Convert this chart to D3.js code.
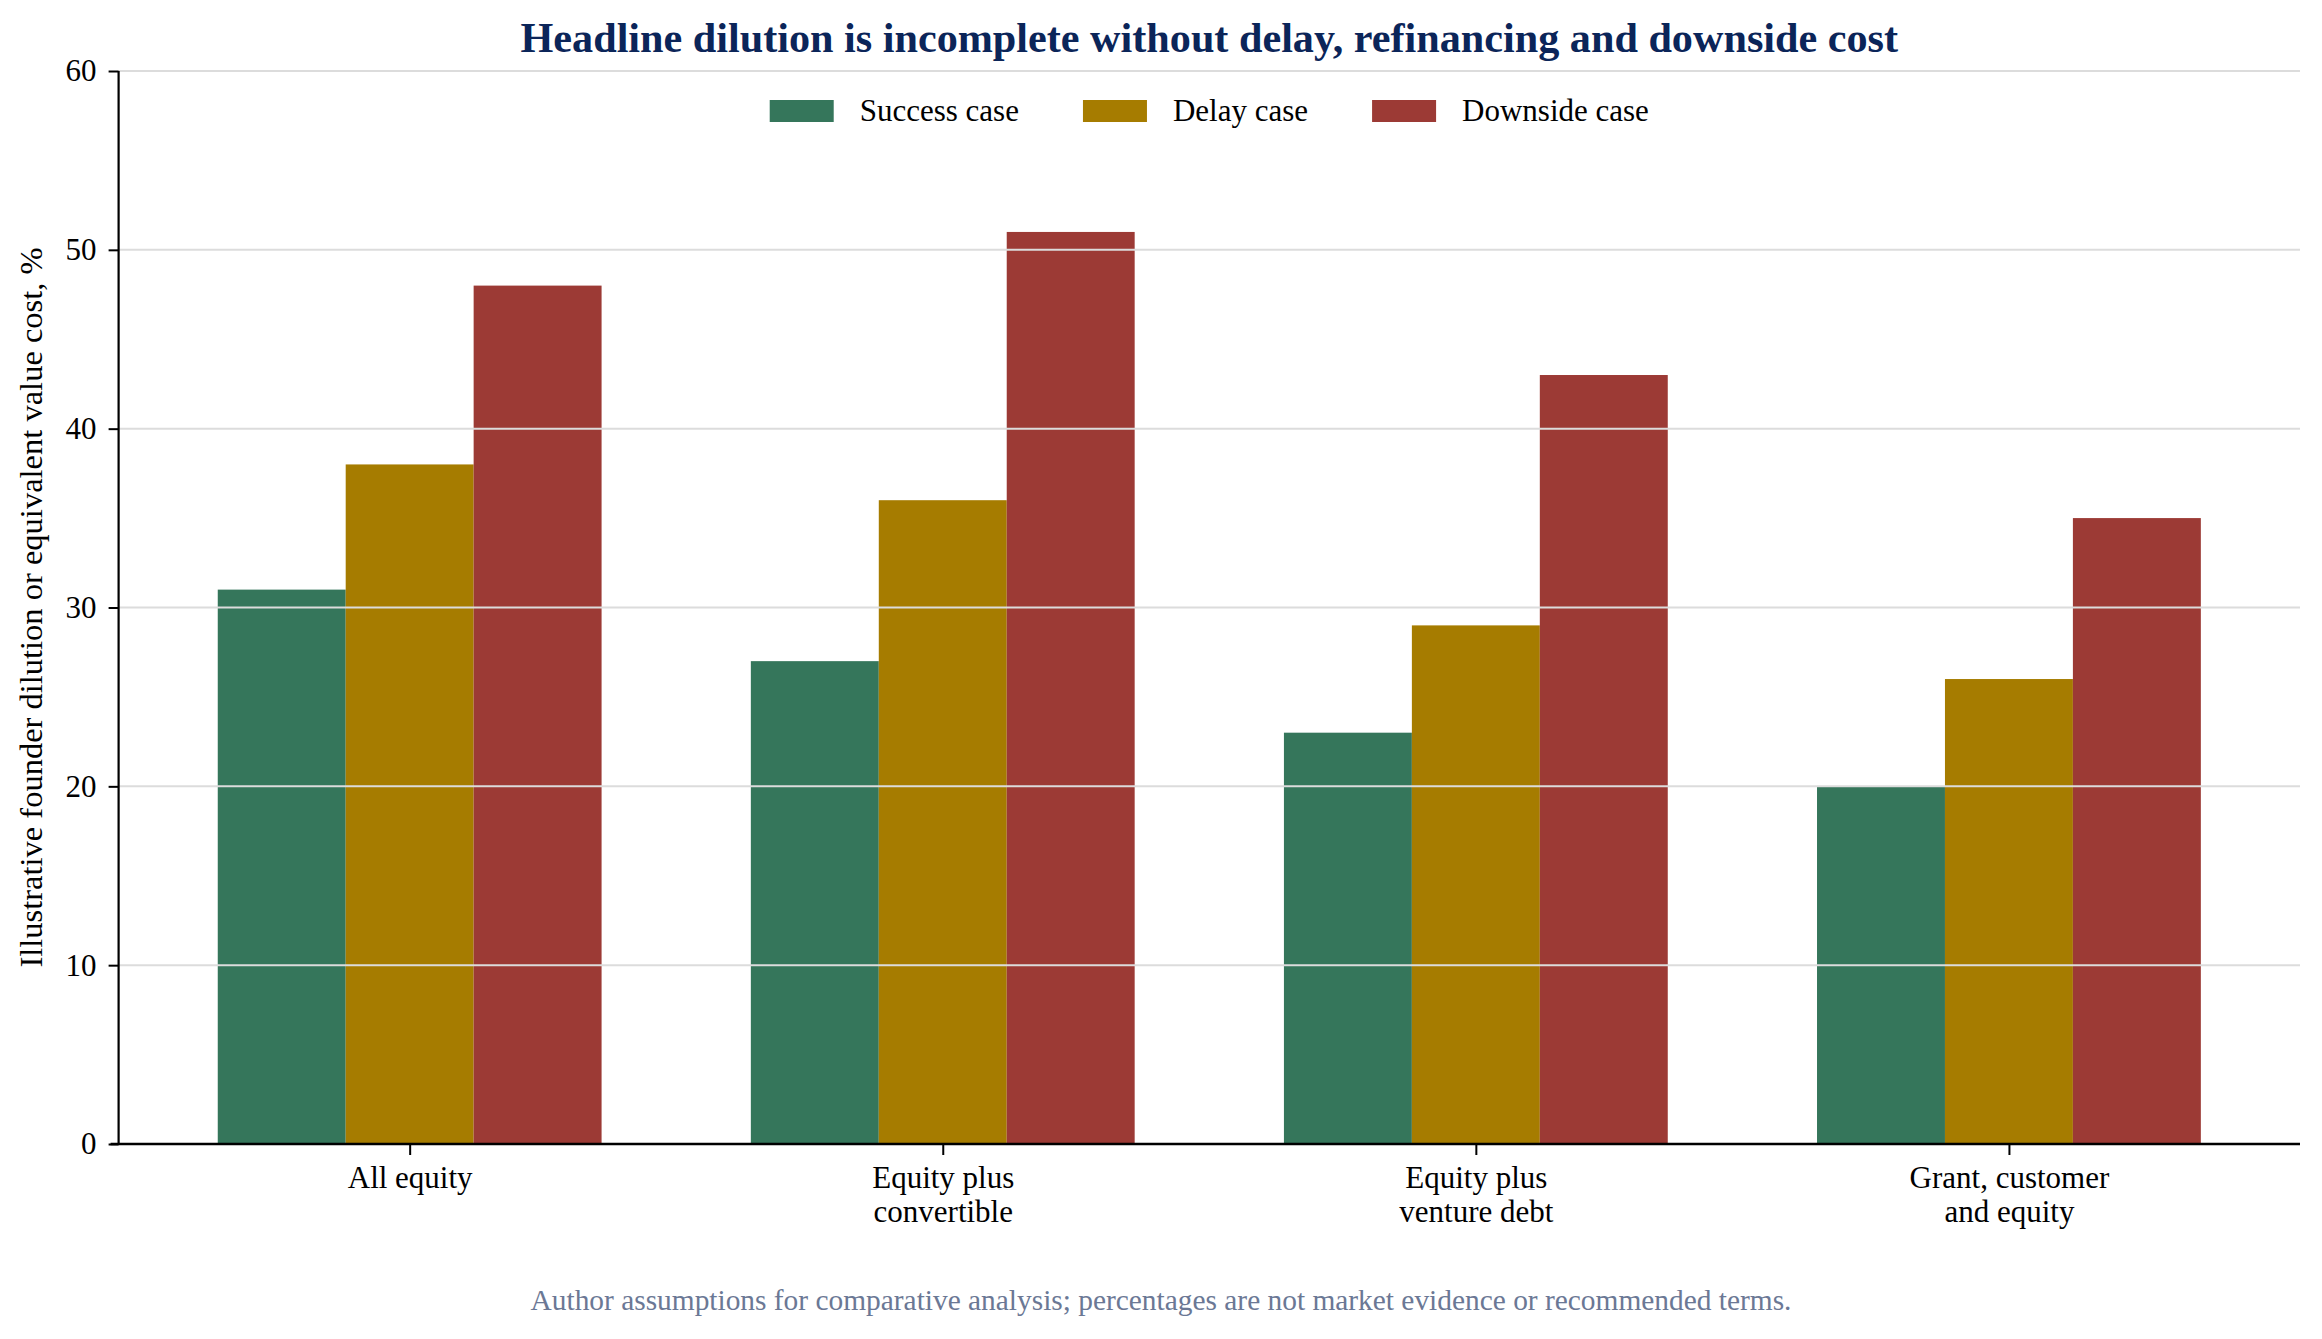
<!DOCTYPE html>
<html>
<head>
<meta charset="utf-8">
<script src="https://cdn.jsdelivr.net/npm/d3@7"></script>
<style>
html,body{margin:0;padding:0;background:#fff;}
svg{display:block;}
text{font-family:"Liberation Serif","Times New Roman",serif;}
</style>
</head>
<body>
<svg id="chart" width="2322" height="1339"></svg>
<script>
const categories = [["All equity"], ["Equity plus", "convertible"], ["Equity plus", "venture debt"], ["Grant, customer", "and equity"]];
const seriesNames = ["Success case", "Delay case", "Downside case"];
const successValues = [31, 27, 23, 20];
const delayValues = [38, 36, 29, 26];
const downsideValues = [48, 51, 43, 35];
const yTicks = [0, 10, 20, 30, 40, 50, 60];
const colors = ["#35765b", "#a67c00", "#9c3a35"];
const titleText = "Headline dilution is incomplete without delay, refinancing and downside cost";
const yLabelText = "Illustrative founder dilution or equivalent value cost, %";
const footerText = "Author assumptions for comparative analysis; percentages are not market evidence or recommended terms.";

const series = [successValues, delayValues, downsideValues];
const W = 2322, H = 1339;
const mLeft = 118.6, mRight = 2300, mTop = 71, mBottom = 1144;
const barW = 0.24;

const svg = d3.select("#chart");
const x = d3.scaleLinear().domain([-0.546, 3.546]).range([mLeft, mRight]);
const y = d3.scaleLinear().domain([0, 60]).range([mBottom, mTop]);

// bars
series.forEach((vals, si) => {
  svg.append("g").selectAll("rect").data(vals).join("rect")
    .attr("x", (d, i) => x(i + (si - 1.5) * barW))
    .attr("width", (d, i) => x(i + (si - 0.5) * barW) - x(i + (si - 1.5) * barW))
    .attr("y", d => y(d))
    .attr("height", d => y(0) - y(d))
    .attr("fill", colors[si]);
});

// gridlines (drawn over bars)
svg.append("g").selectAll("line").data(yTicks.filter(t => t > 0)).join("line")
  .attr("x1", mLeft).attr("x2", mRight)
  .attr("y1", d => y(d)).attr("y2", d => y(d))
  .attr("stroke", "#dcdcdc").attr("stroke-width", 2);

// y axis
const yAxis = d3.axisLeft(y).tickValues(yTicks).tickSize(10).tickPadding(12).tickFormat(d3.format("d"));
const gy = svg.append("g").attr("transform", `translate(${mLeft},0)`).call(yAxis);
gy.select(".domain").attr("stroke", "#000").attr("stroke-width", 2.2).attr("d", `M0,${mBottom}V${mTop}`);
gy.selectAll(".tick line").attr("stroke", "#000").attr("stroke-width", 2);
gy.selectAll(".tick text").attr("font-family", "Liberation Serif").attr("font-size", 31).attr("fill", "#000");

// x axis
const xAxis = d3.axisBottom(x).tickValues(d3.range(categories.length)).tickSize(11).tickFormat("");
const gx = svg.append("g").attr("transform", `translate(0,${mBottom})`).call(xAxis);
gx.select(".domain").attr("stroke", "#000").attr("stroke-width", 2.4).attr("d", `M${mLeft - 8},0H${mRight}`);
gx.selectAll(".tick line").attr("stroke", "#000").attr("stroke-width", 2);
gx.selectAll(".tick").each(function (d) {
  const t = d3.select(this).append("text")
    .attr("text-anchor", "middle").attr("font-size", 31).attr("fill", "#000")
    .attr("font-family", "Liberation Serif");
  categories[d].forEach((line, li) => {
    t.append("tspan").attr("x", 0).attr("y", 44 + li * 34).text(line);
  });
});

// title
svg.append("text").attr("x", (mLeft + mRight) / 2).attr("y", 52)
  .attr("text-anchor", "middle").attr("font-size", 42.2).attr("font-weight", "bold")
  .attr("fill", "#0b2559").text(titleText);

// y label
svg.append("text").attr("transform", `translate(42,${(mTop + mBottom) / 2}) rotate(-90)`)
  .attr("text-anchor", "middle").attr("font-size", 32.5).attr("fill", "#000").text(yLabelText);

// legend
const lg = svg.append("g");
let cx = 0;
seriesNames.forEach((name, i) => {
  lg.append("rect").attr("x", cx).attr("y", 100).attr("width", 64).attr("height", 22).attr("fill", colors[i]);
  const t = lg.append("text").attr("x", cx + 90).attr("y", 121).attr("font-size", 31).attr("fill", "#000").text(name);
  cx = cx + 90 + t.node().getComputedTextLength() + (i < seriesNames.length - 1 ? 64 : 0);
});
lg.attr("transform", `translate(${(mLeft + mRight) / 2 - cx / 2},0)`);

// footer
svg.append("text").attr("x", W / 2).attr("y", 1310).attr("text-anchor", "middle")
  .attr("font-size", 29.4).attr("fill", "#6b7895").text(footerText);
</script>
</body>
</html>
